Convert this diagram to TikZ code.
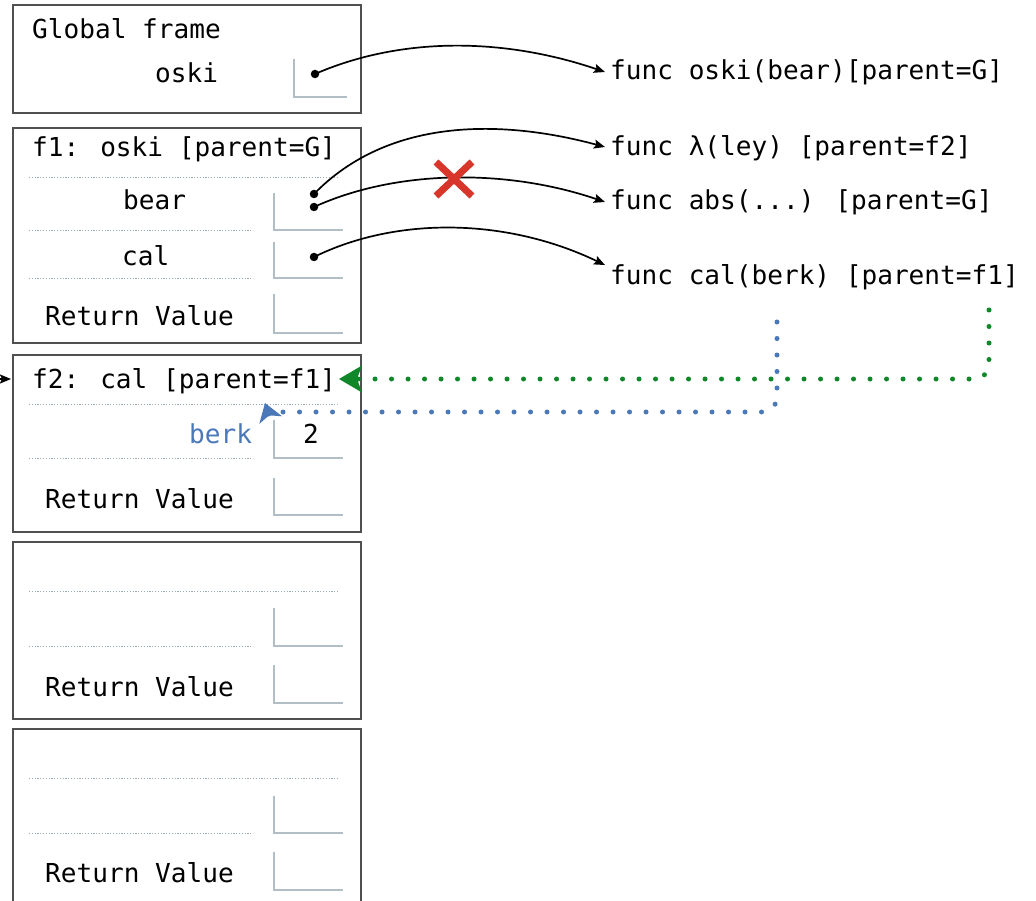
\documentclass[tikz,border=0pt]{standalone}
\usepackage{fontspec}
\newfontfamily\dvmono{DejaVu Sans Mono}
\usetikzlibrary{arrows.meta,calc}
\definecolor{framec}{HTML}{505050}
\definecolor{boxc}{HTML}{B2BEC5}
\definecolor{sepc}{HTML}{9AAAB2}
\definecolor{blueA}{HTML}{4A78B8}
\definecolor{greenA}{HTML}{10882A}
\definecolor{redX}{HTML}{D8352B}
\tikzset{
  txt/.style={font=\dvmono\fontsize{26.1}{30}\selectfont, inner sep=0pt, anchor=base west},
  framebox/.style={draw=framec, line width=1.3pt},
  valbox/.style={draw=boxc, line width=1.5pt},
  sepline/.style={draw=sepc, line width=0.9pt, dash pattern=on 1.2pt off 1.6pt},
  ptrdot/.style={circle, fill=black, inner sep=0pt, minimum size=8.5pt},
  ptr/.style={draw=black, line width=1.7pt, -{Stealth[length=11pt,width=9pt,inset=2pt]}},
  bigdots/.style={line width=5pt, line cap=round, dash pattern=on 0pt off 16.5pt},
}
\begin{document}
\begin{tikzpicture}[x=1pt,y=-1pt]
\useasboundingbox (0,0) rectangle (1036,901);
\fill[white] (0,0) rectangle (1036,901);

% ---------- Global frame ----------
\draw[framebox] (13,5) rectangle (361,113);
\node[txt] (gtitle) at (32,39) {Global frame};
\node[txt] (goski) at (155,83) {oski};
\draw[valbox] (294,59) -- (294,97) -- (347,97);
\node[ptrdot] (d0) at (315,74) {};

% ---------- f1 ----------
\draw[framebox] (13,128) rectangle (361,343);
\node[txt] (f1title) at (32,157) {f1: oski [parent=G]};
\draw[sepline] (29,177) -- (338,177);
\node[txt] (bear) at (123,210) {bear};
\draw[valbox] (274,193) -- (274,230) -- (343,230);
\draw[sepline] (29,230) -- (253,230);
\node[txt] (cal) at (122,266) {cal};
\draw[valbox] (274,242) -- (274,278) -- (343,278);
\draw[sepline] (29,278) -- (253,278);
\node[txt] (rv1) at (45,325) {Return Value};
\draw[valbox] (274,294) -- (274,333) -- (343,333);
\node[ptrdot] (d1) at (314,194) {};
\node[ptrdot] (d2) at (314,207) {};
\node[ptrdot] (d3) at (314,257) {};

% ---------- f2 ----------
\draw[framebox] (13,355) rectangle (361,532);
\node[txt] (f2title) at (32,388) {f2: cal [parent=f1]};
\draw[sepline] (29,404) -- (338,404);
\node[txt, text=blueA] (berk) at (189,443) {berk};
\draw[valbox] (274,420) -- (274,458) -- (343,458);
\node[txt, anchor=base] (two) at (311,443) {2};
\draw[sepline] (29,458) -- (253,458);
\node[txt] (rv2) at (45,508) {Return Value};
\draw[valbox] (274,478) -- (274,515) -- (343,515);

% ---------- frame 4 ----------
\draw[framebox] (13,542) rectangle (361,719);
\draw[sepline] (29,591) -- (338,591);
\draw[valbox] (274,608) -- (274,646) -- (343,646);
\draw[sepline] (29,646) -- (253,646);
\node[txt] (rv3) at (45,696) {Return Value};
\draw[valbox] (274,665) -- (274,703) -- (343,703);

% ---------- frame 5 ----------
\draw[framebox] (13,729) rectangle (361,915);
\draw[sepline] (29,778) -- (338,778);
\draw[valbox] (274,796) -- (274,833) -- (343,833);
\draw[sepline] (29,833) -- (253,833);
\node[txt] (rv4) at (45,882) {Return Value};
\draw[valbox] (274,852) -- (274,890) -- (343,890);

% ---------- function objects ----------
\node[txt] (fosk) at (610,80) {func oski(bear)[parent=G]};
\node[txt] (flam) at (610,156) {func λ(ley) [parent=f2]};
\node[txt] (fabs) at (610,210) {func abs(...) [parent=G]};
\node[txt] (fcal) at (610,285) {func cal(berk) [parent=f1]};

\coordinate (e0) at (605,72);
\coordinate (e1) at (605,147);
\coordinate (e2) at (605,202);
\coordinate (e3) at (605,265);

% ---------- pointers ----------
\draw[ptr] (d0.center) .. controls (400,37) and (502,37) .. (e0);
\draw[ptr] (d1.center) .. controls (390,116) and (505,120) .. (e1);
\draw[ptr] (d2.center) .. controls (395,170) and (505,168) .. (e2);
\draw[ptr] (d3.center) .. controls (395,217) and (505,217) .. (e3);

% red cross
\coordinate (xc) at (454,179);
\draw[redX, line width=7pt] ($(xc)+(-18,-17)$) -- ($(xc)+(18,17)$);
\draw[redX, line width=7pt] ($(xc)+(18,-17)$) -- ($(xc)+(-18,17)$);

% arrow entering f2 from the left
\coordinate (offL) at (-30,379);
\coordinate (f2in) at (11,379);
\draw[ptr] (offL) -- (f2in);

% green dotted: parent of cal -> f2 frame title
\coordinate (gstart) at (989,310);
\coordinate (gend) at (339,379);
\draw[greenA, bigdots, rounded corners=15pt, -{Stealth[length=23pt,width=27pt,inset=5pt,line width=0pt]}]
  (gstart) -- (989,379) -- (gend);

% blue dotted: berk binding
\coordinate (bstart) at (777,322);
\coordinate (bend) at (265,403);
\draw[blueA, bigdots, rounded corners=15pt, -{Stealth[length=18pt,width=24pt,inset=5pt,line width=0pt]}]
  (bstart) -- (777,412) -- (284,412) .. controls (268,412) .. (bend);
\end{tikzpicture}
\end{document}
